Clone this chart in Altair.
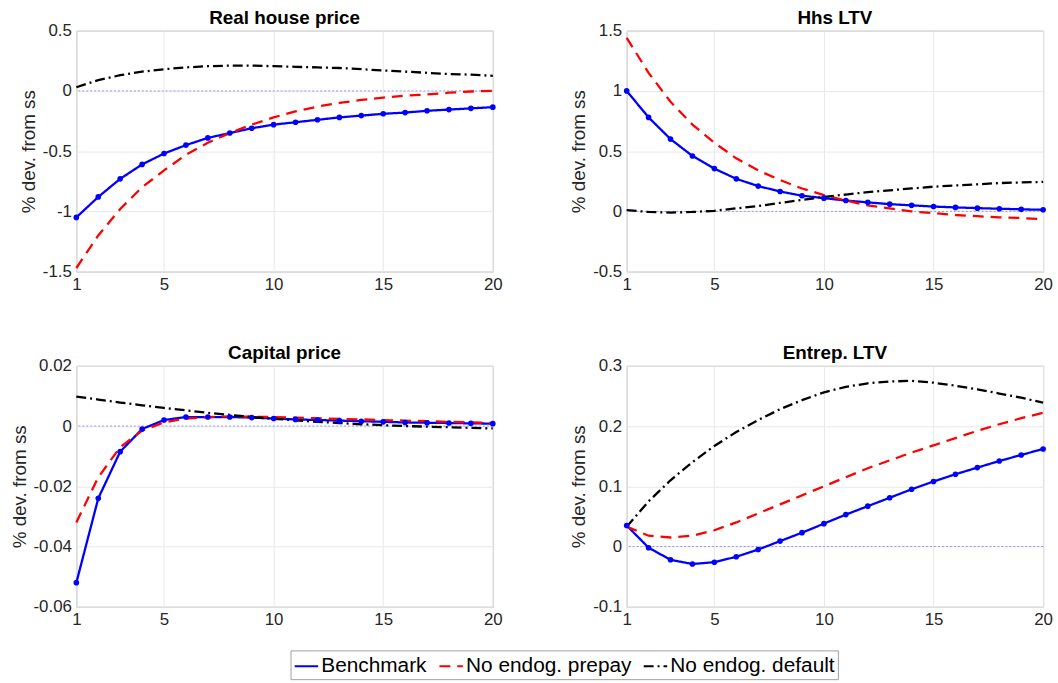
import altair as alt
import pandas as pd

periods = list(range(1, 21))
series_names = ["Benchmark", "No endog. prepay", "No endog. default"]

# Real house price
rhp_bench = [-1.05, -0.88, -0.73, -0.61, -0.52, -0.45, -0.39, -0.35, -0.31, -0.28,
             -0.26, -0.24, -0.22, -0.205, -0.19, -0.18, -0.165, -0.155, -0.145, -0.135]
rhp_prepay = [-1.47, -1.2, -0.98, -0.80, -0.66, -0.53, -0.43, -0.35, -0.28, -0.22,
              -0.17, -0.13, -0.10, -0.075, -0.055, -0.04, -0.03, -0.015, -0.005, 0.0]
rhp_default = [0.03, 0.09, 0.13, 0.16, 0.18, 0.195, 0.205, 0.21, 0.21, 0.205,
               0.2, 0.195, 0.19, 0.18, 0.17, 0.16, 0.15, 0.14, 0.135, 0.125]

# Hhs LTV
hltv_bench = [1.0, 0.78, 0.60, 0.46, 0.355, 0.27, 0.21, 0.165, 0.13, 0.11,
              0.09, 0.075, 0.06, 0.05, 0.04, 0.033, 0.027, 0.022, 0.017, 0.013]
hltv_prepay = [1.44, 1.15, 0.91, 0.72, 0.57, 0.44, 0.34, 0.26, 0.19, 0.135,
               0.09, 0.05, 0.025, 0.0, -0.015, -0.03, -0.04, -0.05, -0.055, -0.065]
hltv_default = [0.01, -0.005, -0.01, -0.005, 0.005, 0.025, 0.045, 0.07, 0.095, 0.12,
                0.14, 0.16, 0.175, 0.19, 0.205, 0.215, 0.225, 0.235, 0.24, 0.245]

# Capital price
cap_bench = [-0.052, -0.024, -0.0085, -0.001, 0.002, 0.003, 0.003, 0.003, 0.0028, 0.0025,
             0.0022, 0.002, 0.0018, 0.0016, 0.0014, 0.0012, 0.0011, 0.001, 0.0009, 0.0008]
cap_prepay = [-0.032, -0.017, -0.007, -0.0015, 0.0012, 0.0025, 0.003, 0.0032, 0.0031, 0.003,
              0.0028, 0.0026, 0.0024, 0.0022, 0.002, 0.0018, 0.0016, 0.0014, 0.0012, 0.001]
cap_default = [0.0098, 0.0088, 0.0078, 0.0069, 0.006, 0.0052, 0.0044, 0.0037, 0.003, 0.0024,
               0.0019, 0.0014, 0.001, 0.0006, 0.0003, 0.0, -0.0002, -0.0004, -0.0006, -0.0008]

# Entrep. LTV
eltv_bench = [0.035, -0.002, -0.022, -0.029, -0.026, -0.017, -0.005, 0.009, 0.023, 0.038,
              0.053, 0.067, 0.081, 0.095, 0.108, 0.12, 0.131, 0.142, 0.152, 0.162]
eltv_prepay = [0.033, 0.018, 0.015, 0.018, 0.027, 0.04, 0.055, 0.07, 0.085, 0.1,
               0.115, 0.13, 0.143, 0.156, 0.168, 0.18, 0.192, 0.203, 0.213, 0.222]
eltv_default = [0.033, 0.075, 0.11, 0.14, 0.167, 0.19, 0.21, 0.228, 0.243, 0.256,
                0.265, 0.271, 0.274, 0.275, 0.272, 0.267, 0.261, 0.254, 0.247, 0.239]

FONT = "Liberation Sans"
W, H = 420, 243

color_scale = alt.Scale(domain=series_names, range=["#0000ff", "#ff0000", "#000000"])
dash_scale = alt.Scale(domain=series_names, range=[[1, 0], [11, 7], [10, 4, 2, 4]])


def panel(title, bench, prepay, default, ydomain, yticks, show_legend=False):
    rows = []
    for name, vals in zip(series_names, [bench, prepay, default]):
        for t, v in zip(periods, vals):
            rows.append({"t": t, "v": v, "series": name})
    df = pd.DataFrame(rows)

    x = alt.X("t:Q", scale=alt.Scale(domain=[1, 20], nice=False),
              axis=alt.Axis(values=[1, 5, 10, 15, 20], title=None))
    y = alt.Y("v:Q", scale=alt.Scale(domain=ydomain, nice=False, zero=False),
              axis=alt.Axis(values=yticks, title="% dev. from ss",
                            labelExpr="toString(datum.value)"))

    legend = alt.Legend(
        title=None, orient="none", direction="horizontal",
        legendX=216, legendY=625, symbolType="stroke", symbolStrokeWidth=2,
        symbolSize=560, labelFontSize=21, labelFont=FONT, labelColor="#000000",
        labelLimit=0, strokeColor="#a0a0a0", fillColor="white", padding=3,
        columnPadding=8, labelOffset=2,
    ) if show_legend else None

    color = alt.Color("series:N", scale=color_scale,
                      legend=legend if show_legend else None)
    dash = alt.StrokeDash("series:N", scale=dash_scale,
                          legend=legend if show_legend else None)

    zero = alt.Chart(pd.DataFrame({"z": [0]})).mark_rule(
        color="#8080ff", strokeDash=[2, 2], strokeWidth=0.8
    ).encode(y=alt.Y("z:Q"))

    lines = alt.Chart(df).mark_line(strokeWidth=2.3).encode(
        x=x, y=y, color=color, strokeDash=dash,
        order=alt.Order("t:Q"),
    )
    pts = alt.Chart(df).transform_filter(
        alt.datum.series == "Benchmark"
    ).mark_point(filled=True, shape="circle", size=32, opacity=1).encode(
        x=x, y=y, color=alt.Color("series:N", scale=color_scale, legend=None)
    )
    return alt.layer(zero, lines, pts).properties(
        width=W, height=H, title=title
    )


p1 = panel("Real house price", rhp_bench, rhp_prepay, rhp_default,
           [-1.5, 0.5], [-1.5, -1, -0.5, 0, 0.5], show_legend=True)
p2 = panel("Hhs LTV", hltv_bench, hltv_prepay, hltv_default,
           [-0.5, 1.5], [-0.5, 0, 0.5, 1, 1.5])
p3 = panel("Capital price", cap_bench, cap_prepay, cap_default,
           [-0.06, 0.02], [-0.06, -0.04, -0.02, 0, 0.02])
p4 = panel("Entrep. LTV", eltv_bench, eltv_prepay, eltv_default,
           [-0.1, 0.3], [-0.1, 0, 0.1, 0.2, 0.3])

chart = alt.concat(
    p1, p2, p3, p4, columns=2,
    spacing=alt.RowColnumber(row=95, column=135), bounds="flush"
).resolve_scale(
    color="shared", strokeDash="shared"
).properties(
    padding={"left": 9, "top": 5, "right": 5, "bottom": 5},
    background="white",
).configure_view(
    stroke="#a6a6a6", strokeWidth=1
).configure_axis(
    grid=True, gridColor="#e8e8e8", gridWidth=1, ticks=False,
    domain=False, labelFont=FONT, labelFontSize=17, labelColor="#262626",
    labelPadding=5, titleFont=FONT, titleFontSize=19, titleFontWeight="normal",
    titleColor="#262626", labelFlush=False,
).configure_axisY(
    titlePadding=4,
).configure_title(
    font=FONT, fontSize=19, fontWeight="bold", color="#000000", offset=-6,
)

chart.save("out.html", embed_options={"renderer": "svg", "actions": False})
